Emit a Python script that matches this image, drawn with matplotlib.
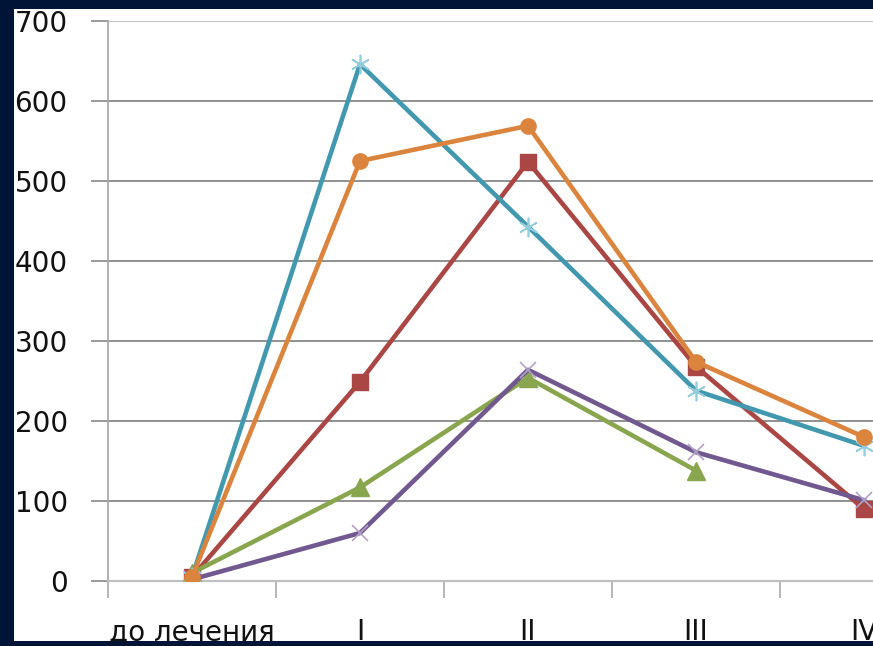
import numpy as np
import matplotlib.pyplot as plt
from matplotlib.patches import Rectangle

# ---------------------------
# Data
# ---------------------------
categories = ["до лечения", "I", "II", "III", "IV"]
red_vals = [5, 249, 524, 268, 90]
green_vals = [10, 117, 254, 138, np.nan]
purple_vals = [2, 60, 264, 161, 101]
teal_vals = [5, 646, 443, 238, 169]
orange_vals = [5, 525, 569, 274, 180]
y_ticks = [0, 100, 200, 300, 400, 500, 600, 700]

# ---------------------------
# Figure with navy frame
# ---------------------------
plt.rcParams['font.family'] = ['DejaVu Sans']

W, H = 873, 646
fig = plt.figure(figsize=(W / 100, H / 100), dpi=100, facecolor="#001438")
frame = Rectangle((14 / W, (H - 641) / H), 1, (641 - 9) / H,
                  transform=fig.transFigure, facecolor="white",
                  edgecolor="none", zorder=-10)
fig.add_artist(frame)

# axes runs past the right edge, like the cropped original
ax = fig.add_axes([108 / W, (H - 581) / H, 840 / W, 560 / H])
ax.set_facecolor("white")

x = np.arange(len(categories))
lw = 3.3

ax.plot(x, red_vals, color="#AA4643", lw=lw, marker="s", ms=11,
        mfc="#AA4643", mec="#AA4643", zorder=3)
ax.plot(x, green_vals, color="#89A54E", lw=lw, marker="^", ms=13,
        mfc="#89A54E", mec="#89A54E", zorder=4)
ax.plot(x, purple_vals, color="#71588F", lw=lw, marker="x", ms=11,
        mew=1.2, mec="#B3A2C7", zorder=5)
ax.plot(x, teal_vals, color="#4198AF", lw=lw, marker=(6, 2, 0), ms=14,
        mew=1.2, mec="#93CDDD", zorder=6)
ax.plot(x, orange_vals, color="#DB843D", lw=lw, marker="o", ms=11,
        mfc="#DB843D", mec="#DB843D", zorder=7)

# ---------------------------
# Axes styling
# ---------------------------
ax.set_xlim(-0.5, 4.5)
ax.set_ylim(0, 700)
ax.set_yticks(y_ticks)
ax.set_yticklabels([str(v) for v in y_ticks], fontsize=20)
ax.tick_params(axis="y", length=12, width=1.2, color="#888888", pad=17,
               labelcolor="#111111")

ax.set_xticks(x)
ax.set_xticklabels(categories, fontsize=20, color="#111111")
ax.set_xticks(np.arange(-0.5, 5.0, 1.0), minor=True)
ax.tick_params(axis="x", which="major", length=0, pad=27)
ax.tick_params(axis="x", which="minor", length=12, width=1.2, color="#aaaaaa")

for v in y_ticks[1:-1]:
    ax.axhline(v, color="#888888", lw=1.3, zorder=1)
ax.axhline(700, color="#c4c4c4", lw=1.6, zorder=1)

for side in ("top", "right"):
    ax.spines[side].set_visible(False)
ax.spines["left"].set_color("#aaaaaa")
ax.spines["left"].set_linewidth(1.3)
ax.spines["bottom"].set_color("#c0c0c0")
ax.spines["bottom"].set_linewidth(1.6)

fig.savefig("out.png", dpi=100, facecolor=fig.get_facecolor())
